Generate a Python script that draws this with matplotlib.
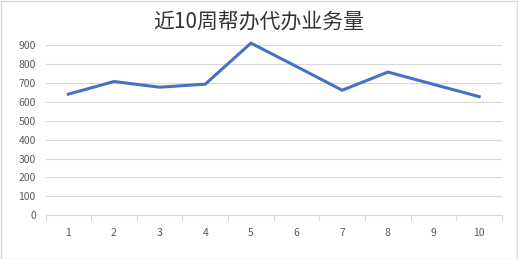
import matplotlib
matplotlib.use("Agg")
import matplotlib.pyplot as plt
from matplotlib.patches import Rectangle

plt.rcParams['font.family'] = ['Noto Sans CJK SC', 'DejaVu Sans']

weeks = [1, 2, 3, 4, 5, 6, 7, 8, 9, 10]
values = [640, 707, 677, 693, 910, 786, 661, 757, 692, 627]
week_labels = [str(w) for w in weeks]
title = "近10周帮办代办业务量"

fig = plt.figure(figsize=(5.18, 2.59), dpi=100)
fig.patch.set_facecolor('white')
fig.add_artist(Rectangle((0.5/518, 0.5/259), 1 - 1.5/518, 1 - 1.5/259, transform=fig.transFigure,
                         fill=False, edgecolor='#d9d9d9', linewidth=1.0))

ax = fig.add_axes([45.5/518, 1 - 215.3/259, (502 - 45.5)/518, (215.3 - 45)/259])
ax.plot(weeks, values, color='#4472C4', linewidth=2.2, clip_on=False, solid_joinstyle='miter')
ax.set_xlim(0.5, 10.5)
ax.set_ylim(0, 900)
ax.set_yticks(range(0, 901, 100))
ax.tick_params(axis='y', length=0, labelsize=7.5, labelcolor='#595959', pad=7)
ax.grid(axis='y', color='#d9d9d9', linewidth=0.8)
ax.set_axisbelow(True)

ax.set_xticks([w + 0.5 for w in [0] + weeks])
ax.set_xticklabels([])
ax.set_xticks(weeks, minor=True)
ax.set_xticklabels(week_labels, minor=True)
ax.tick_params(axis='x', which='major', length=4, color='#d9d9d9', width=0.8)
ax.tick_params(axis='x', which='minor', length=0, labelsize=7.5, labelcolor='#595959', pad=9)

for s in ['top', 'right', 'left']:
    ax.spines[s].set_visible(False)
ax.spines['bottom'].set_color('#d9d9d9')
ax.spines['bottom'].set_linewidth(0.8)

fig.text(0.5, 1 - 22/259, title, ha='center', va='center', fontsize=15, color='#333333')

fig.savefig('out.png', dpi=100, facecolor='white')
